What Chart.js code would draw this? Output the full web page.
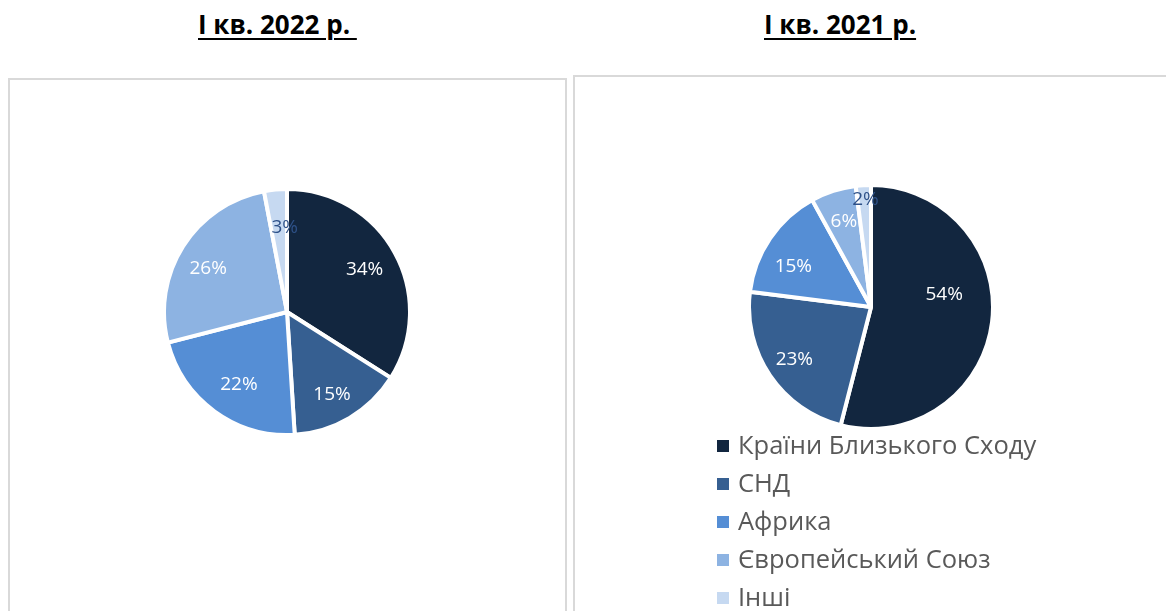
<!DOCTYPE html>
<html>
<head>
<meta charset="utf-8">
<script src="https://cdn.jsdelivr.net/npm/chart.js@4.4.1/dist/chart.umd.min.js"></script>
<style>
  html, body { margin: 0; padding: 0; background: #fff; }
  body { width: 1166px; height: 611px; position: relative; overflow: hidden; font-family: "Open Sans", sans-serif; }
  .title { position: absolute; top: 11px; font-family: "Open Sans", sans-serif; font-weight: bold; font-size: 26px; line-height: 1; color: #000;
           text-decoration: underline; text-decoration-thickness: 2px; text-underline-offset: 4px; white-space: pre; }
  .panel { position: absolute; border: 2px solid #d9d9d9; border-bottom: none; }
  canvas { position: absolute; }
  #legend { position: absolute; left: 717px; top: 425px; margin: 0; padding: 0; list-style: none; }
  #legend li { height: 38px; line-height: 38px; font-size: 25.5px; color: #595959; white-space: nowrap; }
  #legend span { display: inline-block; width: 12px; height: 12px; margin-right: 9px; vertical-align: 2px; }
</style>
</head>
<body>
<div class="title" style="left:198px">І кв. 2022 р. </div>
<div class="title" style="left:764px">І кв. 2021 р.</div>
<div class="panel" style="left:8px; top:78px; width:555px; height:540px"></div>
<div class="panel" style="left:573px; top:75px; width:600px; height:540px"></div>
<canvas id="pie2022" width="250" height="250" style="left:162px; top:187px"></canvas>
<canvas id="pie2021" width="248" height="248" style="left:747px; top:183px"></canvas>
<ul id="legend"></ul>
<script>
// regions, shares in %
const regions = ['Країни Близького Сходу', 'СНД', 'Африка', 'Європейський Союз', 'Інші'];
const share2022 = [34, 15, 22, 26, 3];
const share2021 = [54, 23, 15, 6, 2];
const sliceColors = ['#12263f', '#365f91', '#558ed5', '#8db3e2', '#c6d9f1'];
// label text colour per slice (the small light slice gets dark text)
const labelColors = ['#ffffff', '#ffffff', '#ffffff', '#ffffff', '#2e5188'];
// small label nudges (px), like Excel's "best fit" placement
const nudge2022 = [[0, 0], [0, 6], [4, 1], [-4, 4], [6, 4]];
const nudge2021 = [[-14, -23], [-4, 3], [-5, 9], [0, -2], [0, -20]];

// simple inline data-label plugin, no external plugin available
const pctLabels = {
  id: 'pctLabels',
  afterDatasetsDraw(chart, args, opts) {
    const ctx = chart.ctx;
    const meta = chart.getDatasetMeta(0);
    const data = chart.data.datasets[0].data;
    const nudge = opts.nudge || [];
    ctx.save();
    ctx.font = '19px "Open Sans", sans-serif';
    ctx.textAlign = 'center';
    ctx.textBaseline = 'middle';
    meta.data.forEach((arc, i) => {
      const p = arc.getProps(['x', 'y', 'startAngle', 'endAngle', 'outerRadius'], true);
      const mid = (p.startAngle + p.endAngle) / 2;
      const r = p.outerRadius * 0.72;
      const d = nudge[i] || [0, 0];
      ctx.fillStyle = labelColors[i];
      ctx.fillText(data[i] + '%', p.x + Math.cos(mid) * r + d[0], p.y + Math.sin(mid) * r + d[1]);
    });
    ctx.restore();
  }
};

function makePie(id, values, nudge) {
  new Chart(document.getElementById(id), {
    type: 'pie',
    data: {
      labels: regions,
      datasets: [{ data: values, backgroundColor: sliceColors, borderColor: '#ffffff', borderWidth: 4 }]
    },
    options: {
      responsive: false,
      animation: false,
      layout: { padding: 0 },
      plugins: { legend: { display: false }, tooltip: { enabled: false }, pctLabels: { nudge: nudge } }
    },
    plugins: [pctLabels]
  });
}

makePie('pie2022', share2022, nudge2022);
makePie('pie2021', share2021, nudge2021);

// legend under the right chart
const legend = document.getElementById('legend');
regions.forEach((name, i) => {
  const li = document.createElement('li');
  li.innerHTML = '<span style="background:' + sliceColors[i] + '"></span>' + name;
  legend.appendChild(li);
});
</script>
</body>
</html>
